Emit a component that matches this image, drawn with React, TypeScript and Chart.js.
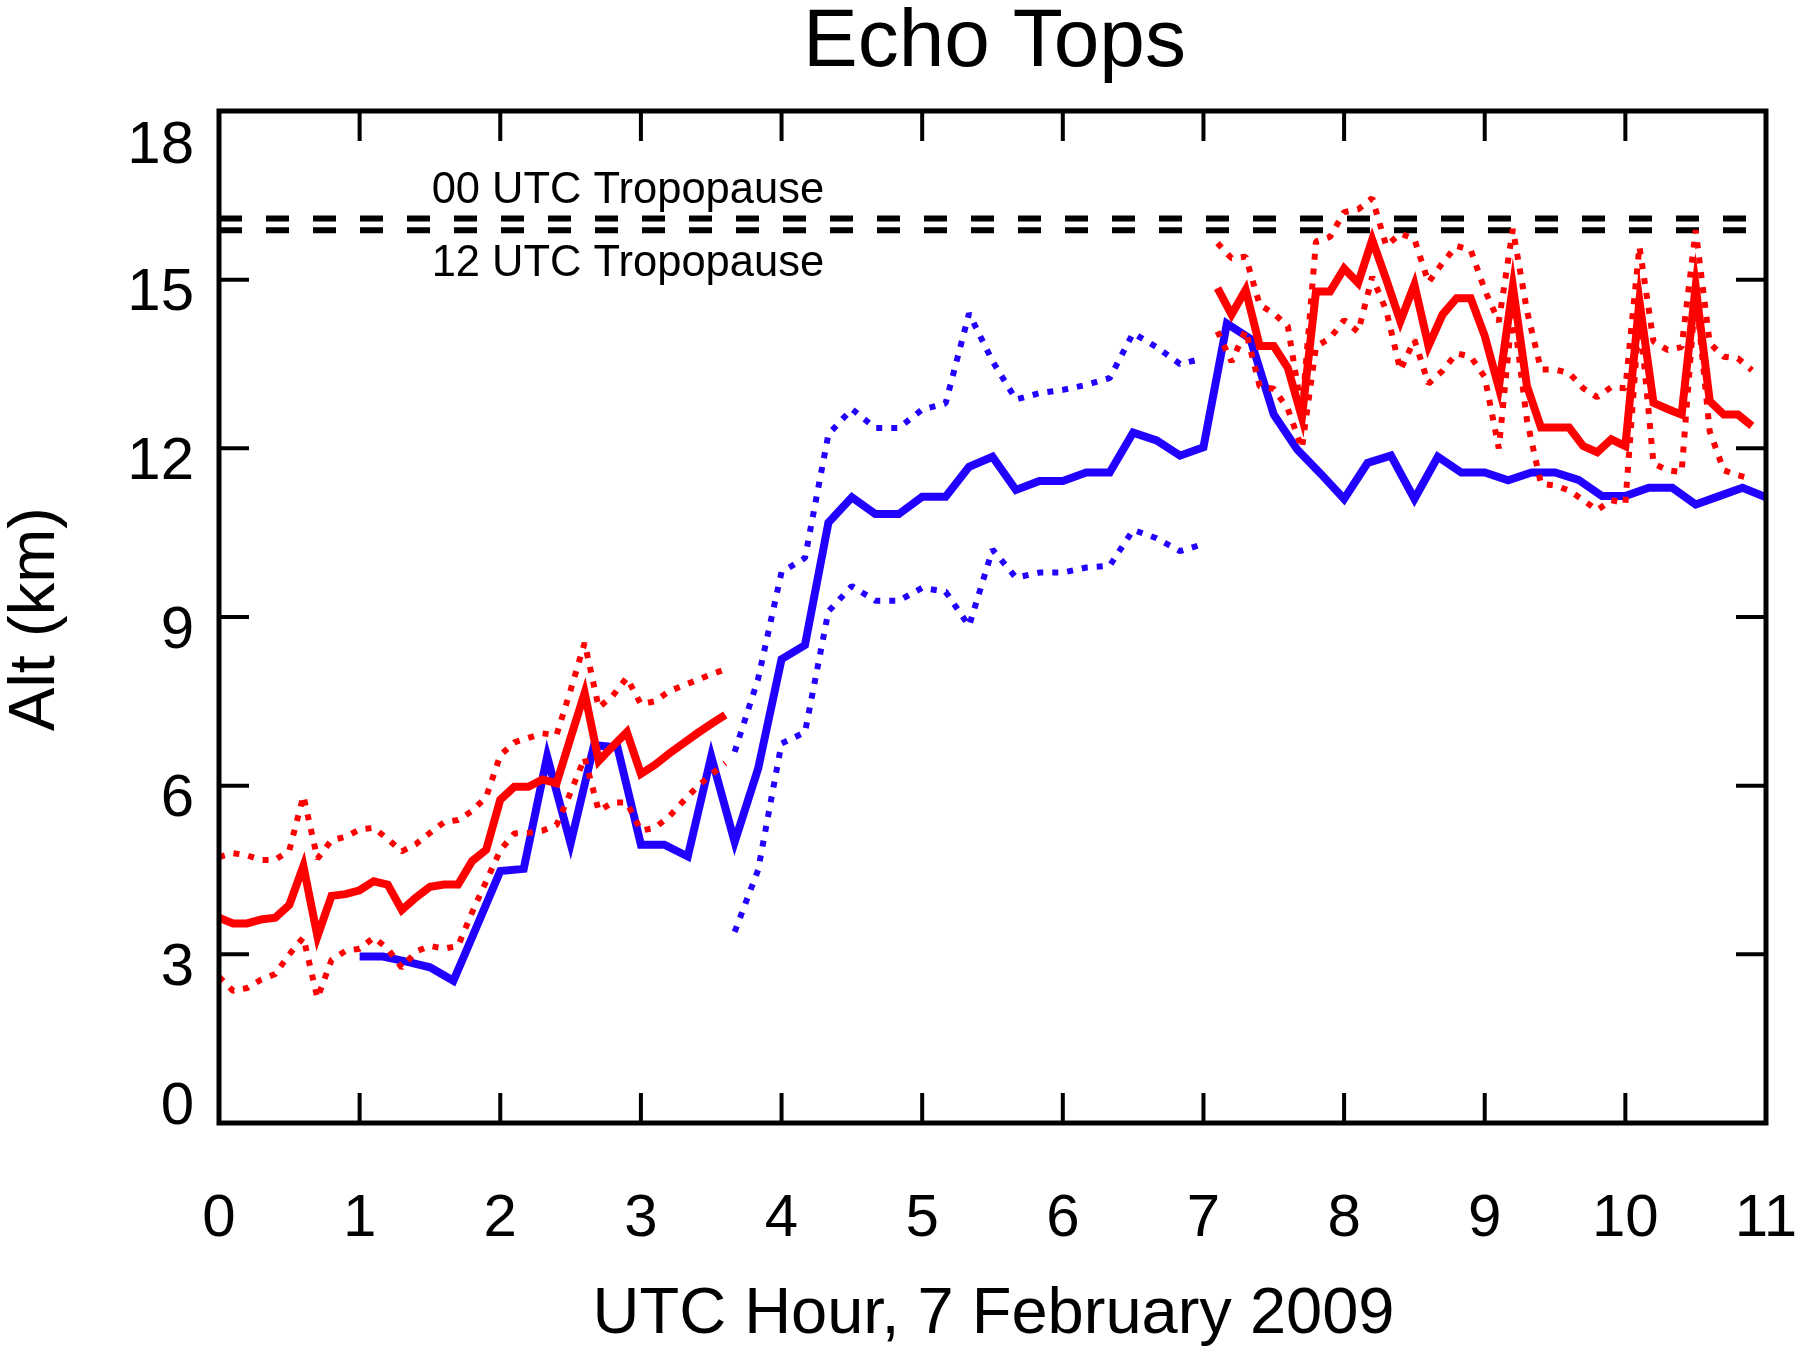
import React, { useEffect, useRef } from "react";
import { Chart, registerables } from "chart.js";

Chart.register(...registerables);

// ---------------- text ----------------
const TITLE = "Echo Tops";
const X_TITLE = "UTC Hour, 7 February 2009";
const Y_TITLE = "Alt (km)";
const TROP_00_LABEL = "00 UTC Tropopause";
const TROP_12_LABEL = "12 UTC Tropopause";

// ---------------- axes ----------------
const X_MIN = 0;
const X_MAX = 11;
const Y_MIN = 0;
const Y_MAX = 18;
const X_TICKS = [0, 1, 2, 3, 4, 5, 6, 7, 8, 9, 10, 11];
const Y_TICKS = [0, 3, 6, 9, 12, 15, 18];

// ---------------- tropopause heights (km) ----------------
const TROP_00_KM = 16.09;
const TROP_12_KM = 15.88;

// ---------------- red series, first segment (minutes after 00 UTC) ----------------
const RED_A_MIN = [
  0, 6, 12, 18, 24, 30, 36, 42, 48, 54, 60, 66, 72, 78, 84, 90, 96, 102, 108, 114,
  120, 126, 132, 138, 144, 150, 156, 162, 168, 174, 180, 186, 192, 198, 204, 210, 216,
];
const RED_A_MID = [
  3.65, 3.55, 3.55, 3.62, 3.65, 3.88, 4.57, 3.32, 4.04, 4.07, 4.14, 4.3, 4.24, 3.79, 4.01, 4.2, 4.24, 4.24, 4.66, 4.86,
  5.75, 5.98, 5.98, 6.11, 6.04, 6.85, 7.65, 6.44, 6.7, 6.95, 6.21, 6.37, 6.57, 6.75, 6.93, 7.1, 7.26,
];
const RED_A_HIGH = [
  4.73, 4.8, 4.76, 4.68, 4.68, 4.85, 5.82, 4.7, 5.03, 5.09, 5.22, 5.25, 5.05, 4.83, 4.96, 5.16, 5.35, 5.39, 5.55, 5.8,
  6.54, 6.77, 6.85, 6.93, 6.9, 7.7, 8.54, 7.39, 7.6, 7.92, 7.45, 7.5, 7.68, 7.78, 7.88, 7.98, 8.07,
];
const RED_A_LOW = [
  2.6, 2.35, 2.4, 2.55, 2.65, 3.0, 3.3, 2.22, 2.9, 3.06, 3.1, 3.3, 3.1, 2.76, 3.05, 3.15, 3.1, 3.15, 3.75, 4.3,
  4.85, 5.15, 5.16, 5.2, 5.3, 5.88, 6.5, 5.55, 5.7, 5.7, 5.2, 5.25, 5.45, 5.72, 5.98, 6.2, 6.4,
];

// ---------------- red series, second segment ----------------
const RED_B_MIN = [
  426, 432, 438, 444, 450, 456, 462, 468, 474, 480, 486, 492, 498, 504, 510, 516, 522, 528, 534, 540,
  546, 552, 558, 564, 570, 576, 582, 588, 594, 600, 606, 612, 618, 624, 630, 636, 642, 648, 654,
];
const RED_B_MID = [
  14.85, 14.38, 14.82, 13.82, 13.82, 13.43, 12.55, 14.79, 14.79, 15.2, 14.94, 15.71, 15.0, 14.26, 14.91, 13.82, 14.38, 14.67, 14.67, 14.0,
  13.08, 14.88, 13.11, 12.37, 12.37, 12.37, 12.04, 11.93, 12.16, 12.04, 14.62, 12.81, 12.7, 12.6, 14.88, 12.84, 12.6, 12.6, 12.4,
];
const RED_B_HIGH = [
  15.65, 15.38, 15.41, 14.55, 14.4, 14.17, 12.65, 15.68, 15.76, 16.2, 16.25, 16.45, 15.6, 15.82, 15.72, 14.95, 15.3, 15.6, 15.53, 14.82,
  14.25, 15.9, 14.45, 13.4, 13.4, 13.34, 13.07, 12.91, 13.09, 13.07, 15.59, 13.9, 13.75, 13.8, 15.88, 13.87, 13.63, 13.6, 13.39,
];
const RED_B_LOW = [
  14.08, 13.54, 14.1, 13.1, 13.06, 12.7, 12.0, 13.81, 13.96, 14.28, 14.07, 15.05, 14.45, 13.39, 13.93, 13.15, 13.38, 13.69, 13.63, 13.27,
  12.0, 14.5, 12.5, 11.37, 11.34, 11.25, 11.08, 10.9, 11.08, 11.02, 14.4, 11.73, 11.61, 11.58, 14.8, 12.3, 11.61, 11.52, 11.46,
];

// ---------------- blue series ----------------
const BLUE_MIN = [
  60, 70, 80, 90, 100, 110, 120, 130, 140, 150, 160, 170, 180, 190, 200, 210, 220, 230, 240, 250,
  260, 270, 280, 290, 300, 310, 320, 330, 340, 350, 360, 370, 380, 390, 400, 410, 420, 430, 440, 450,
  460, 470, 480, 490, 500, 510, 520, 530, 540, 550, 560, 570, 580, 590, 600, 610, 620, 630, 640, 650, 660,
];
const BLUE_MID = [
  2.96, 2.96, 2.87, 2.77, 2.53, 3.5, 4.48, 4.52, 6.52, 4.97, 6.72, 6.68, 4.95, 4.95, 4.74, 6.52, 5.0, 6.3, 8.25, 8.5,
  10.68, 11.13, 10.83, 10.83, 11.14, 11.14, 11.67, 11.85, 11.26, 11.42, 11.42, 11.57, 11.57, 12.28, 12.14, 11.87, 12.02, 14.22, 13.95, 12.6,
  11.98, 11.55, 11.1, 11.74, 11.87, 11.1, 11.85, 11.57, 11.57, 11.43, 11.57, 11.57, 11.44, 11.15, 11.15, 11.3, 11.3, 11.0, 11.15, 11.3, 11.13,
];
const BLUE_SPREAD_MIN = [
  220, 230, 240, 250, 260, 270, 280, 290, 300, 310, 320, 330, 340, 350, 360, 370, 380, 390, 400, 410, 420,
];
const BLUE_HIGH = [
  6.6, 7.9, 9.8, 10.05, 12.25, 12.7, 12.36, 12.36, 12.69, 12.8, 14.4, 13.55, 12.87, 12.98, 13.04, 13.13, 13.25, 14.05, 13.8, 13.5, 13.6,
];
const BLUE_LOW = [
  3.4, 4.5, 6.75, 6.95, 9.1, 9.55, 9.29, 9.29, 9.52, 9.45, 8.84, 10.2, 9.7, 9.79, 9.79, 9.88, 9.91, 10.55, 10.4, 10.17, 10.3,
];

// ---------------- style ----------------
const RED = "#ff0000";
const BLUE = "#2200ff";
const FONT = '"Liberation Sans", Arial, Helvetica, sans-serif';
const SOLID_W = 8;
const DOT_W = 6;
const DOT_DASH = [6, 9];

const pts = (mins: number[], vals: number[]) => mins.map((m, i) => ({ x: m / 60, y: vals[i] }));

const solid = (data: any, color: string) => ({
  data,
  borderColor: color,
  backgroundColor: color,
  borderWidth: SOLID_W,
  borderJoinStyle: "miter" as const,
  borderCapStyle: "butt" as const,
  pointRadius: 0,
  fill: false,
  tension: 0,
});
const dotted = (data: any, color: string) => ({
  data,
  borderColor: color,
  backgroundColor: color,
  borderWidth: DOT_W,
  borderDash: DOT_DASH,
  borderJoinStyle: "bevel" as const,
  borderCapStyle: "butt" as const,
  pointRadius: 0,
  fill: false,
  tension: 0,
});

const decorPlugin = {
  id: "decor",
  afterDatasetsDraw(chart: any) {
    const { ctx, chartArea: a, scales } = chart;
    const xs = scales.x;
    const ys = scales.y;
    ctx.save();
    ctx.strokeStyle = "#000";
    ctx.fillStyle = "#000";
    ctx.lineCap = "butt";

    // inward ticks on all four sides
    const TL = 30;
    ctx.lineWidth = 4;
    ctx.beginPath();
    X_TICKS.forEach((v) => {
      if (v <= X_MIN || v >= X_MAX) return;
      const px = xs.getPixelForValue(v);
      ctx.moveTo(px, a.bottom);
      ctx.lineTo(px, a.bottom - TL);
      ctx.moveTo(px, a.top);
      ctx.lineTo(px, a.top + TL);
    });
    Y_TICKS.forEach((v) => {
      if (v <= Y_MIN || v >= Y_MAX) return;
      const py = ys.getPixelForValue(v);
      ctx.moveTo(a.left, py);
      ctx.lineTo(a.left + TL, py);
      ctx.moveTo(a.right, py);
      ctx.lineTo(a.right - TL, py);
    });
    ctx.stroke();

    // frame
    ctx.lineWidth = 5;
    ctx.strokeRect(a.left, a.top, a.right - a.left, a.bottom - a.top);

    // tick labels
    ctx.font = `60px ${FONT}`;
    ctx.textBaseline = "alphabetic";
    ctx.textAlign = "center";
    X_TICKS.forEach((v) => {
      ctx.fillText(String(v), xs.getPixelForValue(v), a.bottom + 113);
    });
    ctx.textAlign = "right";
    Y_TICKS.forEach((v) => {
      let off = 9;
      if (v === Y_MAX) off = 30;
      if (v === Y_MIN) off = -21;
      ctx.fillText(String(v), a.left - 25, ys.getPixelForValue(v) + off + 21.5);
    });

    // title
    ctx.textAlign = "center";
    ctx.font = `82px ${FONT}`;
    ctx.fillText(TITLE, (a.left + a.right) / 2 + 2, 66);

    // axis titles
    ctx.font = `65px ${FONT}`;
    ctx.fillText(X_TITLE, (a.left + a.right) / 2 + 1, a.bottom + 210);
    ctx.save();
    ctx.translate(54, (a.top + a.bottom) / 2 + 2);
    ctx.rotate(-Math.PI / 2);
    ctx.fillText(Y_TITLE, 0, 0);
    ctx.restore();

    // tropopause labels
    ctx.font = `43.5px ${FONT}`;
    ctx.textAlign = "left";
    const lx = xs.getPixelForValue(1.512);
    ctx.fillText(TROP_00_LABEL, lx, ys.getPixelForValue(TROP_00_KM) - 15);
    ctx.fillText(TROP_12_LABEL, lx, ys.getPixelForValue(TROP_12_KM) + 46);

    ctx.restore();
  },
};

export default function App() {
  const ref = useRef<HTMLCanvasElement | null>(null);

  useEffect(() => {
    if (!ref.current) return;
    const tropLine = (km: number) => ({
      data: [
        { x: X_MIN, y: km },
        { x: X_MAX, y: km },
      ],
      borderColor: "#000",
      borderWidth: 6,
      borderDash: [23, 24],
      borderCapStyle: "butt" as const,
      pointRadius: 0,
      fill: false,
    });

    const chart = new Chart(ref.current, {
      type: "line",
      data: {
        datasets: [
          solid(pts(RED_A_MIN, RED_A_MID), RED),
          solid(pts(RED_B_MIN, RED_B_MID), RED),
          dotted(pts(RED_A_MIN, RED_A_HIGH), RED),
          dotted(pts(RED_A_MIN, RED_A_LOW), RED),
          dotted(pts(RED_B_MIN, RED_B_HIGH), RED),
          dotted(pts(RED_B_MIN, RED_B_LOW), RED),
          solid(pts(BLUE_MIN, BLUE_MID), BLUE),
          dotted(pts(BLUE_SPREAD_MIN, BLUE_HIGH), BLUE),
          dotted(pts(BLUE_SPREAD_MIN, BLUE_LOW), BLUE),
          tropLine(TROP_00_KM),
          tropLine(TROP_12_KM),
        ] as any,
      },
      options: {
        responsive: false,
        maintainAspectRatio: false,
        devicePixelRatio: 1,
        animation: false,
        parsing: true,
        layout: { padding: { left: 219, top: 111, right: 34, bottom: 233 } },
        scales: {
          x: { type: "linear", min: X_MIN, max: X_MAX, display: false },
          y: { type: "linear", min: Y_MIN, max: Y_MAX, display: false },
        },
        plugins: {
          legend: { display: false },
          tooltip: { enabled: false },
          title: { display: false },
        },
        elements: { point: { radius: 0 } },
      },
      plugins: [decorPlugin],
    });
    return () => chart.destroy();
  }, []);

  return (
    <div style={{ position: "absolute", left: 0, top: 0, width: 1800, height: 1356, background: "#fff" }}>
      <canvas ref={ref} width={1800} height={1356} style={{ display: "block", width: 1800, height: 1356 }} />
    </div>
  );
}
